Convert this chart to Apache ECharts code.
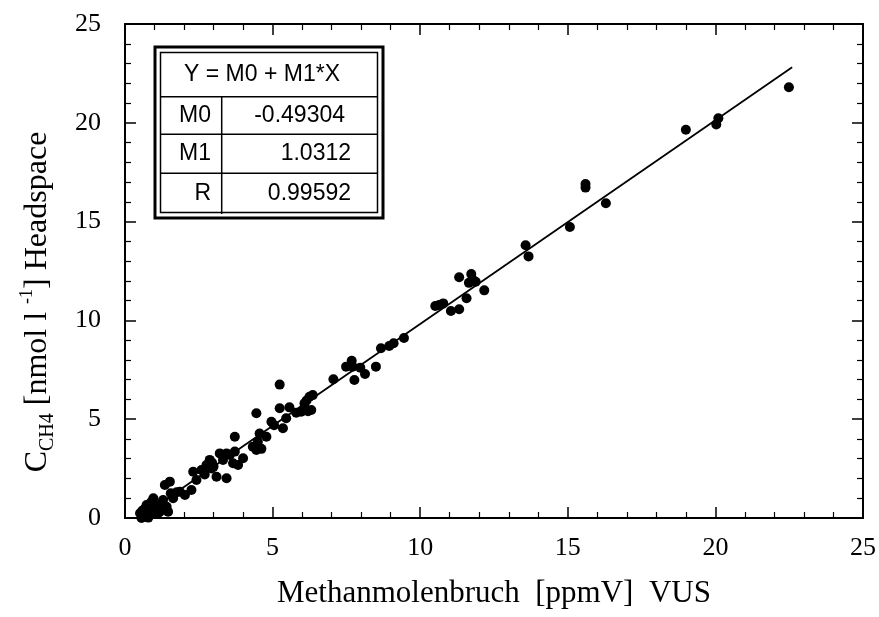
<!DOCTYPE html>
<html>
<head>
<meta charset="utf-8">
<script src="https://cdn.jsdelivr.net/npm/echarts@6/dist/echarts.min.js"></script>
<style>
  html, body { margin: 0; padding: 0; background: #fff; }
  #chart { width: 879px; height: 617px; }
</style>
</head>
<body>
<div id="chart"></div>
<script>
// Messpunkte
const xValues = [
  22.49, 20.10, 20.03, 19.00, 15.60, 15.60, 16.29, 15.07, 13.57, 13.67,
  11.32, 11.73, 11.77, 11.88, 11.65, 12.17, 11.57, 10.51, 10.78, 10.64,
  11.04, 11.32, 9.45, 9.10, 8.95, 8.67, 8.50, 8.13, 7.97, 7.68,
  7.49, 7.71, 7.77, 7.06, 6.36, 6.25, 6.08, 6.31, 5.97, 5.80,
  5.57, 5.24, 5.46, 5.35, 5.24, 4.96, 4.45, 4.79, 4.56, 4.50,
  4.33, 4.45, 4.62, 3.72, 3.72, 3.44, 3.32, 3.66, 3.44, 3.21,
  2.87, 2.76, 2.93, 3.10, 2.31, 2.59, 2.42, 2.25, 1.86, 2.03,
  1.52, 1.35, 1.63, 1.29, 0.96, 1.01, 1.41, 1.46, 1.18, 0.73,
  0.62, 0.51, 0.68, 0.90, 1.07, 0.79, 0.56, 0.79, 3.83, 4.00,
  3.55, 5.05, 2.70, 2.95, 3.00, 0.85, 0.65, 1.20, 0.70, 6.15,
  6.20, 0.60, 0.75, 0.95, 1.10, 1.30, 0.88, 0.58, 1.55, 1.75
]
const yValues = [
  21.80, 20.23, 19.92, 19.65, 16.90, 16.72, 15.93, 14.73, 13.80, 13.24,
  12.18, 12.35, 12.08, 11.96, 11.90, 11.52, 11.12, 10.73, 10.86, 10.78,
  10.48, 10.56, 9.11, 8.84, 8.70, 8.59, 7.66, 7.29, 7.61, 7.96,
  7.66, 7.66, 6.98, 7.02, 6.22, 6.14, 5.80, 5.47, 5.38, 5.33,
  5.60, 5.55, 5.05, 4.54, 6.75, 4.87, 5.30, 4.11, 4.28, 3.86,
  3.61, 3.44, 3.50, 4.11, 3.36, 3.27, 2.94, 2.77, 2.01, 3.27,
  2.94, 2.68, 2.51, 2.09, 2.34, 2.43, 1.92, 1.42, 1.33, 1.16,
  1.84, 1.67, 1.00, 0.91, 1.00, 0.66, 0.57, 0.32, 0.32, 0.66,
  0.40, 0.24, 0.07, 0.24, 0.49, 0.40, 0.00, 0.02, 2.68, 3.02,
  3.19, 4.70, 2.20, 2.80, 2.60, 0.60, 0.20, 0.70, 0.50, 5.95,
  5.40, 0.10, 0.15, 0.45, 0.20, 0.45, 0.80, 0.35, 1.25, 1.30
]

// Regression Y = M0 + M1*X
const fitM0 = -0.49304
const fitM1 = 1.0312
const fitR = 0.99592
const fitRangeX = [0.5, 22.6]

const tableRows = [
  ['M0', '-0.49304'],
  ['M1', '1.0312'],
  ['R', '0.99592']
]

const tickLabels = [0, 5, 10, 15, 20, 25]

const chart = echarts.init(document.getElementById('chart'))

const points = xValues.map((x, i) => [x, yValues[i]])
const fitLine = fitRangeX.map(x => [x, fitM0 + fitM1 * x])

const serif = 'Liberation Serif'
const sans = 'Liberation Sans'

// gemeinsame Achsen-Einstellungen
const axisBase = {
  type: 'value',
  min: 0,
  max: 25,
  interval: 5,
  axisLine: { show: true, onZero: false, lineStyle: { color: '#000', width: 2 } },
  axisTick: { show: true, inside: true, length: 11, lineStyle: { color: '#000', width: 1.5 } },
  minorTick: { show: true, splitNumber: 5, length: 6, lineStyle: { color: '#000', width: 1.2 } },
  splitLine: { show: false },
  axisLabel: {
    color: '#000',
    fontFamily: serif,
    fontSize: 26,
    formatter: v => (tickLabels.includes(v) ? String(v) : '')
  }
}

// Tabelle oben links
const tblX = 155, tblY = 47, tblW = 228, tblH = 171
const rowLines = [96.7, 134.3, 173.3, 214]
const colX = 221.7
const tableGraphics = [
  { type: 'rect', shape: { x: tblX, y: tblY, width: tblW, height: tblH },
    style: { fill: '#fff', stroke: '#000', lineWidth: 3 }, z: 100 },
  { type: 'rect', shape: { x: tblX + 5.5, y: tblY + 5.5, width: tblW - 11, height: tblH - 11 },
    style: { fill: 'none', stroke: '#000', lineWidth: 1.5 }, z: 101 },
  { type: 'text', x: 262, y: 75, z: 102,
    style: { text: 'Y = M0 + M1*X', font: '23px ' + sans, fill: '#000', align: 'center', verticalAlign: 'middle' } }
]
rowLines.slice(0, 3).forEach(y => {
  tableGraphics.push({ type: 'line', z: 101,
    shape: { x1: tblX + 5.5, y1: y, x2: tblX + tblW - 5.5, y2: y },
    style: { stroke: '#000', lineWidth: 1.5 } })
})
tableGraphics.push({ type: 'line', z: 101,
  shape: { x1: colX, y1: rowLines[0], x2: colX, y2: rowLines[3] },
  style: { stroke: '#000', lineWidth: 1.5 } })
tableRows.forEach((row, i) => {
  const cy = (rowLines[i] + rowLines[i + 1]) / 2
  tableGraphics.push({ type: 'text', x: 211, y: cy, z: 102,
    style: { text: row[0], font: '23px ' + sans, fill: '#000', align: 'right', verticalAlign: 'middle' } })
  tableGraphics.push({ type: 'text', x: i === 0 ? 345 : 351, y: cy, z: 102,
    style: { text: row[1], font: '23px ' + sans, fill: '#000', align: 'right', verticalAlign: 'middle' } })
})

// Y-Achsentitel mit Index
tableGraphics.push({
  type: 'text', x: 38, y: 302, rotation: Math.PI / 2, z: 102,
  style: {
    text: '{m|C}{sub|CH4}{m| [nmol l }{sup|-1}{m|] Headspace}',
    align: 'center',
    verticalAlign: 'middle',
    rich: {
      m: { fontFamily: serif, fontSize: 32, fill: '#000', lineHeight: 40, verticalAlign: 'middle' },
      sub: { fontFamily: serif, fontSize: 20, fill: '#000', lineHeight: 40, verticalAlign: 'bottom' },
      sup: { fontFamily: serif, fontSize: 18, fill: '#000', lineHeight: 40, verticalAlign: 'top' }
    }
  }
})

const option = {
  animation: false,
  backgroundColor: '#fff',
  grid: { left: 125, right: 14, top: 24, bottom: 99, containLabel: false },
  xAxis: [
    Object.assign({}, axisBase, {
      position: 'bottom',
      axisLabel: Object.assign({}, axisBase.axisLabel, { margin: 17 }),
      name: 'Methanmolenbruch  [ppmV]  VUS',
      nameLocation: 'middle',
      nameGap: 60,
      nameTextStyle: { color: '#000', fontFamily: serif, fontSize: 31 }
    }),
    Object.assign({}, axisBase, { position: 'top', axisLabel: { show: false } })
  ],
  yAxis: [
    Object.assign({}, axisBase, {
      position: 'left',
      axisLabel: Object.assign({}, axisBase.axisLabel, { margin: 24 })
    }),
    Object.assign({}, axisBase, { position: 'right', axisLabel: { show: false } })
  ],
  graphic: tableGraphics,
  series: [
    {
      type: 'scatter',
      data: points,
      symbol: 'circle',
      symbolSize: 10,
      itemStyle: { color: '#000', opacity: 1 }
    },
    {
      type: 'line',
      data: fitLine,
      showSymbol: false,
      symbol: 'none',
      lineStyle: { color: '#000', width: 1.8 }
    }
  ]
}

chart.setOption(option)
</script>
</body>
</html>
